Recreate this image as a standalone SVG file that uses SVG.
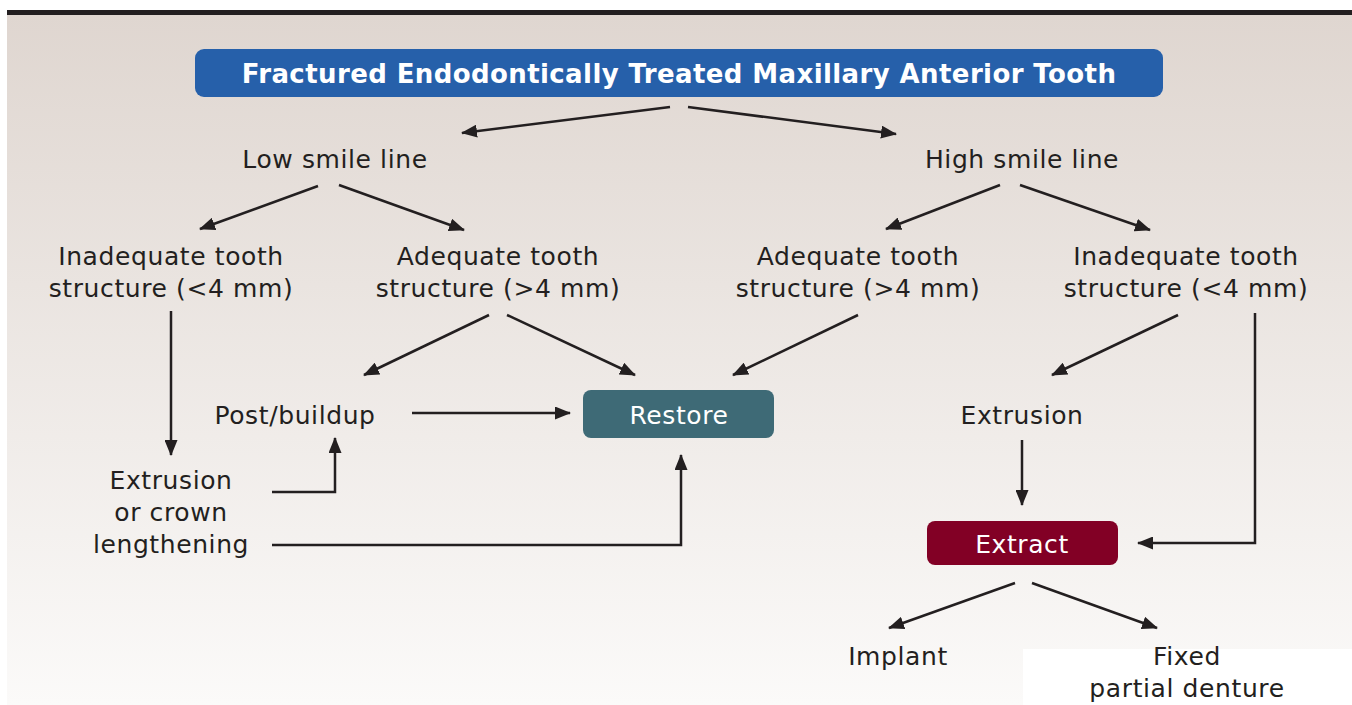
<svg xmlns="http://www.w3.org/2000/svg" width="1352" height="705" viewBox="0 0 1352 705">
<defs>
<linearGradient id="bg" x1="0" y1="0" x2="0" y2="1">
<stop offset="0" stop-color="#dfd6d0"/>
<stop offset="1" stop-color="#fbfaf9"/>
</linearGradient>
<marker id="ah" viewBox="0 0 16 13" refX="15" refY="6.5" markerWidth="16" markerHeight="13" markerUnits="userSpaceOnUse" orient="auto">
<path d="M0,0 L16,6.5 L0,13 z" fill="#231f20"/>
</marker>
<style>
.t{font-family:"DejaVu Sans","Noto Sans",sans-serif;font-size:25px;letter-spacing:0.6px;fill:#231f20;text-anchor:middle}
.w{fill:#ffffff}
.c{fill:none;stroke:#231f20;stroke-width:2.5;marker-end:url(#ah)}
</style>
</defs>
<rect x="0" y="0" width="1352" height="705" fill="#ffffff"/>
<rect x="7" y="15" width="1345" height="690" fill="url(#bg)"/>
<rect x="7" y="10" width="1345" height="5" fill="#231f20"/>
<rect x="1023" y="649" width="329" height="56" fill="#ffffff"/>

<g id="title">
<rect x="195" y="49" width="968" height="48" rx="9" fill="#2660aa"/>
<text x="679" y="83" class="t w" style="font-weight:bold;font-size:26px;letter-spacing:0.4px">Fractured Endodontically Treated Maxillary Anterior Tooth</text>
</g>
<g id="low-smile"><text x="335" y="168" class="t">Low smile line</text></g>
<g id="high-smile"><text x="1022" y="168" class="t">High smile line</text></g>
<g id="low-inadequate"><text x="171" y="265" class="t">Inadequate tooth</text><text x="171" y="297" class="t">structure (&lt;4 mm)</text></g>
<g id="low-adequate"><text x="498" y="265" class="t">Adequate tooth</text><text x="498" y="297" class="t">structure (&gt;4 mm)</text></g>
<g id="high-adequate"><text x="858" y="265" class="t">Adequate tooth</text><text x="858" y="297" class="t">structure (&gt;4 mm)</text></g>
<g id="high-inadequate"><text x="1186" y="265" class="t">Inadequate tooth</text><text x="1186" y="297" class="t">structure (&lt;4 mm)</text></g>
<g id="post"><text x="295" y="424" class="t">Post/buildup</text></g>
<g id="restore">
<rect x="583" y="390" width="191" height="48" rx="8" fill="#3e6a76"/>
<text x="679" y="424" class="t w">Restore</text>
</g>
<g id="extrusion-right"><text x="1022" y="424" class="t">Extrusion</text></g>
<g id="extrusion-left"><text x="171" y="489" class="t">Extrusion</text><text x="171" y="521" class="t">or crown</text><text x="171" y="553" class="t">lengthening</text></g>
<g id="extract">
<rect x="927" y="521" width="191" height="44" rx="8" fill="#820025"/>
<text x="1022" y="553" class="t w">Extract</text>
</g>
<g id="implant"><text x="898" y="665" class="t">Implant</text></g>
<g id="fpd"><text x="1187" y="665" class="t">Fixed</text><text x="1187" y="697" class="t">partial denture</text></g>

<g id="connectors">
<line x1="670" y1="107" x2="462" y2="133" class="c"/>
<line x1="688" y1="107" x2="896" y2="134" class="c"/>
<line x1="318" y1="186" x2="200" y2="229" class="c"/>
<line x1="339" y1="185" x2="464" y2="230" class="c"/>
<line x1="1000" y1="185" x2="886" y2="229" class="c"/>
<line x1="1020" y1="185" x2="1150" y2="230" class="c"/>
<line x1="171" y1="311" x2="171" y2="455" class="c"/>
<line x1="489" y1="315" x2="364" y2="375" class="c"/>
<line x1="507" y1="315" x2="635" y2="375" class="c"/>
<line x1="858" y1="315" x2="733" y2="375" class="c"/>
<line x1="1178" y1="315" x2="1052" y2="375" class="c"/>
<polyline points="1255,313 1255,543 1138,543" class="c"/>
<line x1="412" y1="413" x2="570" y2="413" class="c"/>
<line x1="1022" y1="440" x2="1022" y2="505" class="c"/>
<polyline points="272,492 335,492 335,438" class="c"/>
<polyline points="272,545 681,545 681,455" class="c"/>
<line x1="1015" y1="583" x2="889" y2="628" class="c"/>
<line x1="1032" y1="583" x2="1157" y2="628" class="c"/>
</g>
</svg>
